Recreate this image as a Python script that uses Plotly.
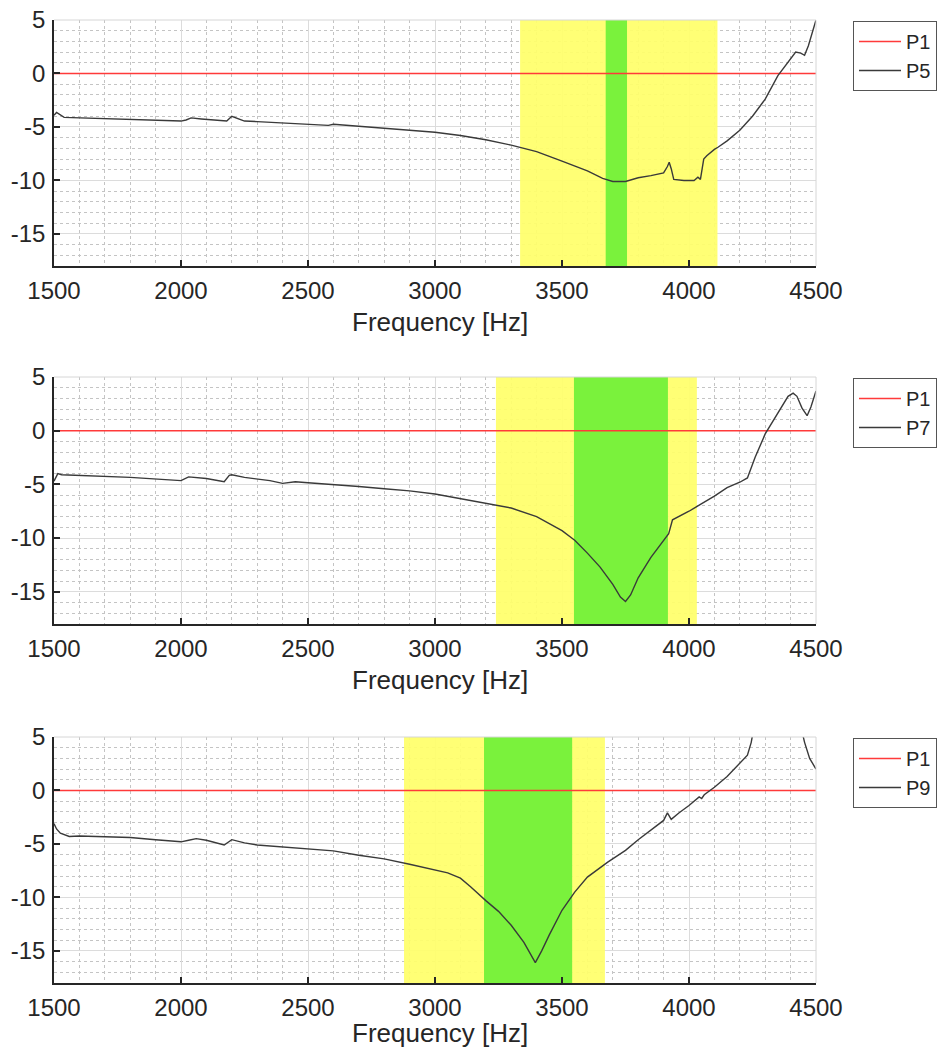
import plotly.graph_objects as go

# ---------------- data ----------------
freq_p5 = [1500, 1510, 1540, 1600, 1700, 1800, 1900, 2000, 2020, 2040, 2080, 2150, 2180, 2200,
           2250, 2300, 2400, 2500, 2580, 2600, 2700, 2800, 2900, 3000, 3100, 3200, 3300, 3400,
           3500, 3600, 3660, 3700, 3750, 3780, 3800, 3850, 3900, 3915, 3922, 3930, 3940, 3980,
           4020, 4035, 4045, 4058, 4070, 4100, 4114, 4150, 4200, 4250, 4300, 4350, 4400, 4420,
           4440, 4455, 4470, 4485, 4500]
p5 = [-3.9, -3.65, -4.1, -4.15, -4.2, -4.25, -4.35, -4.45, -4.35, -4.15, -4.25, -4.35, -4.45, -4.0,
      -4.45, -4.5, -4.6, -4.75, -4.85, -4.75, -4.95, -5.1, -5.3, -5.5, -5.8, -6.2, -6.7, -7.3,
      -8.2, -9.1, -9.8, -10.1, -10.1, -9.9, -9.75, -9.55, -9.3, -8.7, -8.3, -8.9, -9.9, -10.0,
      -10.0, -9.7, -9.9, -8.0, -7.7, -7.1, -6.9, -6.3, -5.3, -4.0, -2.4, -0.2, 1.4, 2.0,
      1.9, 1.7, 2.6, 3.8, 5.0]

freq_p7 = [1500, 1515, 1530, 1600, 1800, 2000, 2015, 2030, 2100, 2170, 2190, 2200, 2250, 2350,
           2400, 2450, 2500, 2600, 2700, 2800, 2900, 3000, 3100, 3200, 3300, 3400, 3500, 3550,
           3600, 3650, 3700, 3730, 3750, 3770, 3800, 3850, 3900, 3920, 3935, 3960, 4000, 4050,
           4100, 4150, 4200, 4230, 4260, 4300, 4350, 4390, 4410, 4425, 4445, 4465, 4480, 4500]
p7 = [-4.7, -4.0, -4.1, -4.15, -4.35, -4.65, -4.5, -4.3, -4.45, -4.75, -4.15, -4.1, -4.35, -4.65,
      -4.9, -4.75, -4.85, -5.0, -5.2, -5.4, -5.6, -5.9, -6.35, -6.75, -7.2, -8.0, -9.3, -10.2,
      -11.4, -12.7, -14.3, -15.5, -15.9, -15.3, -13.7, -11.8, -10.2, -9.6, -8.3, -8.0, -7.5, -6.8,
      -6.1, -5.3, -4.8, -4.4, -2.5, -0.3, 1.7, 3.2, 3.5, 3.2, 2.1, 1.4, 2.2, 3.7]

freq_p9 = [1500, 1510, 1525, 1560, 1600, 1700, 1800, 1900, 2000, 2030, 2060, 2100, 2170, 2200,
           2250, 2300, 2400, 2500, 2600, 2700, 2800, 2900, 3000, 3050, 3100, 3140, 3200, 3250,
           3300, 3350, 3395, 3420, 3450, 3500, 3550, 3600, 3680, 3750, 3800, 3850, 3900, 3915,
           3930, 3960, 4000, 4040, 4050, 4060, 4100, 4150, 4200, 4230, 4245, 4260, 4300, 4400,
           4440, 4455, 4475, 4500]
p9 = [-3.1, -3.6, -4.0, -4.3, -4.25, -4.35, -4.4, -4.6, -4.8, -4.65, -4.5, -4.65, -5.1, -4.6,
      -4.9, -5.1, -5.3, -5.5, -5.65, -6.05, -6.4, -6.9, -7.4, -7.7, -8.2, -9.0, -10.3, -11.3,
      -12.6, -14.2, -16.1, -15.0, -13.5, -11.2, -9.5, -8.1, -6.7, -5.6, -4.6, -3.7, -2.8, -2.1,
      -2.7, -2.1, -1.4, -0.6, -0.75, -0.4, 0.3, 1.3, 2.5, 3.3, 4.5, 6.5, 9.0, 9.0,
      6.0, 4.5, 3.0, 2.0]

freq_p1 = [1500, 4500]
p1 = [0, 0]

series_names = ["P5", "P7", "P9"]
yellow_bands = [(3335, 4112), (3240, 4031), (2878, 3669)]
green_bands = [(3672, 3756), (3547, 3917), (3193, 3540)]

x_range = [1500, 4500]
y_range = [-18, 5]
x_ticks = [1500, 2000, 2500, 3000, 3500, 4000, 4500]
y_ticks = [5, 0, -5, -10, -15]
y_ticktext = ["5", "0", "-5", "-10", "-15"]
x_title = "Frequency [Hz]"

# ---------------- layout geometry ----------------
W, H = 945, 1050
plot_left, plot_right = 54, 816
panels_px = [(20, 266), (377, 624), (737, 983)]
title_px = [322, 680, 1033]

FONT = "Liberation Sans, Arial, sans-serif"
YELLOW = "rgba(255,255,105,0.92)"
GREEN = "rgb(122,242,60)"
RED = "#FF3A3A"
DARK = "#3a3a3a"

fig = go.Figure()
curves = [(freq_p5, p5), (freq_p7, p7), (freq_p9, p9)]

layout = dict(
    width=W, height=H,
    margin=dict(l=0, r=0, t=0, b=0, autoexpand=False),
    paper_bgcolor="white", plot_bgcolor="white",
    font=dict(family=FONT, color="#262626"),
)
shapes = []
annotations = []

for i in range(3):
    sfx = "" if i == 0 else str(i + 1)
    xa, ya = "x" + sfx, "y" + sfx
    leg = "legend" + sfx
    top, bot = panels_px[i]

    # shaded frequency bands (drawn as filled traces above the grid, below curves)
    for (b0, b1), col in ((yellow_bands[i], YELLOW), (green_bands[i], GREEN)):
        fig.add_trace(go.Scatter(
            x=[b0, b0, b1, b1], y=[y_range[0], y_range[1], y_range[1], y_range[0]],
            fill="toself", fillcolor=col, mode="lines", line=dict(width=0),
            showlegend=False, hoverinfo="skip", xaxis=xa, yaxis=ya, legend=leg))

    fig.add_trace(go.Scatter(x=freq_p1, y=p1, mode="lines", name="P1",
                             line=dict(color=RED, width=1.5), xaxis=xa, yaxis=ya,
                             legend=leg))
    fx, fy = curves[i]
    fig.add_trace(go.Scatter(x=fx, y=fy, mode="lines", name=series_names[i],
                             line=dict(color=DARK, width=1.4), xaxis=xa, yaxis=ya,
                             legend=leg))

    axis_common = dict(
        showline=True, linecolor="#262626", linewidth=1.5,
        ticks="inside", ticklen=6, tickcolor="#262626", tickwidth=1.5,
        showgrid=True, gridcolor="#dcdcdc", gridwidth=1,
        zeroline=False, automargin=False,
        tickfont=dict(size=24, family=FONT, color="#262626"),
    )
    layout["xaxis" + sfx] = dict(
        axis_common,
        domain=[plot_left / W, plot_right / W],
        anchor=ya, range=x_range,
        tickvals=x_ticks, ticktext=[str(v) for v in x_ticks],
        minor=dict(dtick=100, tick0=1500, showgrid=True, gridcolor="#c4c4c4",
                   griddash="dot", gridwidth=1, ticks=""),
        ticklabelstandoff=2,
    )
    layout["yaxis" + sfx] = dict(
        axis_common,
        domain=[1 - bot / H, 1 - top / H],
        anchor=xa, range=y_range,
        tickvals=y_ticks, ticktext=y_ticktext,
        minor=dict(dtick=1, tick0=0, showgrid=True, gridcolor="#c4c4c4",
                   griddash="dot", gridwidth=1, ticks=""),
        ticklabelstandoff=2,
    )
    layout[leg] = dict(
        x=853 / W, y=1 - (top + 1) / H, xanchor="left", yanchor="top",
        bgcolor="white", bordercolor="#555555", borderwidth=1,
        font=dict(size=20, family=FONT, color="#262626"),
        tracegroupgap=0, itemwidth=42,
    )

    # light top / right frame lines
    shapes.append(dict(type="line", xref=xa + " domain", yref=ya + " domain",
                       x0=0, x1=1, y0=1, y1=1, line=dict(color="#d6d6d6", width=1),
                       layer="above"))
    shapes.append(dict(type="line", xref=xa + " domain", yref=ya + " domain",
                       x0=1, x1=1, y0=0, y1=1, line=dict(color="#d6d6d6", width=1),
                       layer="above"))
    annotations.append(dict(
        text=x_title, xref="paper", yref="paper",
        x=440 / W, y=1 - title_px[i] / H,
        xanchor="center", yanchor="middle", showarrow=False,
        font=dict(size=26, family=FONT, color="#262626")))

layout["shapes"] = shapes
layout["annotations"] = annotations
fig.update_layout(**layout)
fig.write_html("out.html")
